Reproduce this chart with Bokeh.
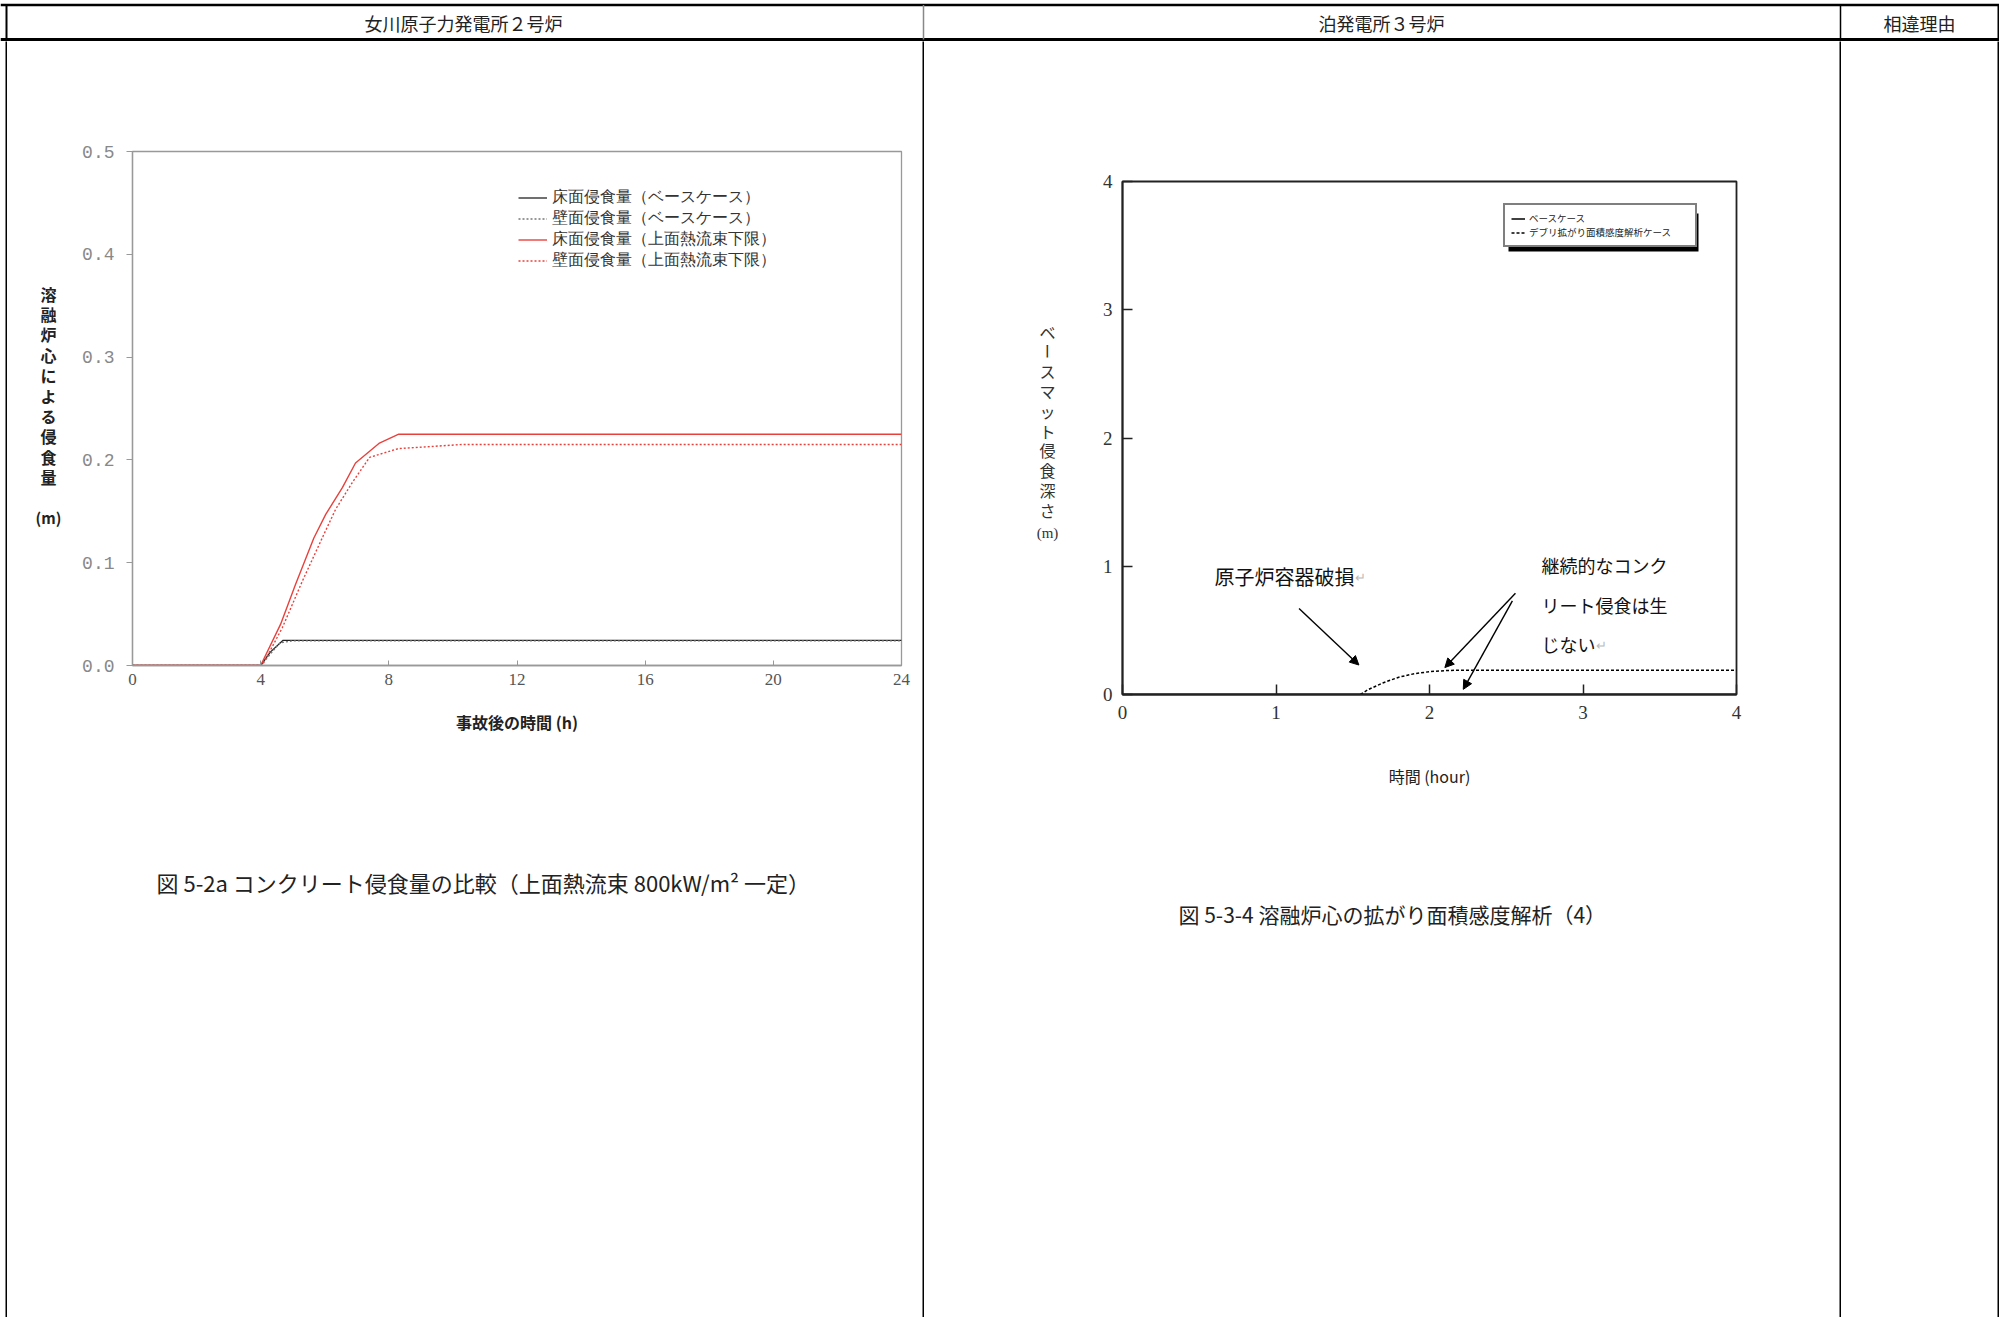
import math
from bokeh.plotting import figure
from bokeh.models import Range1d, FixedTicker, NumeralTickFormatter, Label, Arrow, NormalHead, BoxAnnotation
from bokeh.layouts import row, column
from bokeh.embed import file_html
from bokeh.resources import INLINE

JP = "Noto Sans CJK JP"

# ---------------- data: left chart (女川原子力発電所２号炉) ----------------
time_floor_base = [0.0, 4.0, 4.3, 4.7, 24.0]
floor_base = [0.0, 0.0, 0.013, 0.0245, 0.0245]
time_wall_base = [0.0, 4.0, 4.3, 4.6, 5.0, 24.0]
wall_base = [0.0, 0.0, 0.011, 0.022, 0.024, 0.024]
time_floor_low = [0.0, 4.0, 4.62, 5.09, 5.66, 6.03, 6.55, 6.96, 7.69, 8.31, 24.0]
floor_low = [0.0, 0.0, 0.040, 0.079, 0.124, 0.147, 0.173, 0.197, 0.216, 0.225, 0.225]
time_wall_low = [0.0, 4.05, 4.68, 5.3, 5.92, 6.34, 6.86, 7.4, 8.3, 10.3, 24.0]
wall_low = [0.0, 0.0, 0.037, 0.082, 0.124, 0.152, 0.178, 0.2025, 0.211, 0.215, 0.215]
left_x_ticks = [0, 4, 8, 12, 16, 20, 24]
left_y_ticks = [0.0, 0.1, 0.2, 0.3, 0.4, 0.5]
left_labels = ["床面侵食量（ベースケース）", "壁面侵食量（ベースケース）",
               "床面侵食量（上面熱流束下限）", "壁面侵食量（上面熱流束下限）"]

# ---------------- data: right chart (泊発電所３号炉) ----------------
time_base_r = [0.0, 4.0]
base_r = [0.0, 0.0]
time_sens_r = [1.55, 1.6, 1.7, 1.8, 1.9, 2.0, 2.1, 2.2, 4.0]
sens_r = [0.0, 0.038, 0.092, 0.135, 0.162, 0.178, 0.186, 0.19, 0.19]
right_ticks = [0, 1, 2, 3, 4]
right_labels = ["ベースケース", "デブリ拡がり面積感度解析ケース"]
note_texts = ["原子炉容器破損", "継続的なコンク", "リート侵食は生", "じない"]
note_x = [0.60, 2.73, 2.73, 2.73]
note_y = [0.92, 1.01, 0.70, 0.39]
note_size = ["20px", "18px", "18px", "18px"]
arrow_x0 = [1.15, 2.56, 2.54]
arrow_y0 = [0.67, 0.79, 0.73]
arrow_x1 = [1.54, 2.10, 2.22]
arrow_y1 = [0.23, 0.21, 0.04]


def no_align(f):
    if "frame_align" in type(f).properties():
        f.frame_align = False
    return f


def pane(x0, x1, y0, y1, color="white"):
    """A plain figure whose data space equals page pixels (y downwards)."""
    f = figure(width=x1 - x0, height=y1 - y0, output_backend="svg", toolbar_location=None,
               min_border=0, x_axis_location=None, y_axis_location=None,
               x_range=Range1d(x0, x1), y_range=Range1d(y1, y0))
    f.background_fill_color = color
    f.border_fill_color = color
    f.outline_line_color = None
    f.grid.visible = False
    return no_align(f)


def txt(f, x, y, s, size, align="center", color="#222", font=JP, style="normal", angle=0.0):
    f.add_layout(Label(x=x, y=y, text=s, text_align=align, text_baseline="middle",
                       text_font=font, text_font_size=size, text_color=color,
                       text_font_style=style, angle=angle))


# ---------------- header row ----------------
HEAD_Y1 = 41
BODY_Y1 = 1317
head = pane(0, 1999, 0, HEAD_Y1)
head.segment(x0=[0, 0], y0=[4.5, 39], x1=[1999, 1999], y1=[4.5, 39],
             line_color="black", line_width=[2.5, 3])
head.segment(x0=[6, 923, 1840, 1998], y0=[4.5] * 4, x1=[6, 923, 1840, 1998], y1=[39] * 4,
             line_color=["black", "#888", "black", "black"], line_width=[2, 1.5, 1.5, 2])
txt(head, 463, 22, "女川原子力発電所２号炉", "18px")
txt(head, 1381, 22, "泊発電所３号炉", "18px")
txt(head, 1919, 22, "相違理由", "18px")

# ---------------- left chart ----------------
L_TOP, L_BOT = HEAD_Y1, 745
pl = figure(width=852, height=L_BOT - L_TOP, x_range=Range1d(0, 24), y_range=Range1d(0, 0.5),
            min_border_left=62, min_border_right=21, min_border_top=110, min_border_bottom=80,
            output_backend="svg", toolbar_location=None, title=None)
no_align(pl)
pl.grid.visible = False
pl.outline_line_color = "#999"
pl.outline_line_width = 1.3
pl.line(time_floor_base, floor_base, line_color="#222", line_width=1.3, legend_label=left_labels[0])
pl.line(time_wall_base, wall_base, line_color="#777", line_width=1.3, line_dash="2 2", legend_label=left_labels[1])
pl.line(time_floor_low, floor_low, line_color="#e8413c", line_width=1.4, legend_label=left_labels[2])
pl.line(time_wall_low, wall_low, line_color="#e8413c", line_width=1.4, line_dash="2 2", legend_label=left_labels[3])

pl.xaxis.ticker = FixedTicker(ticks=left_x_ticks)
pl.yaxis.ticker = FixedTicker(ticks=left_y_ticks)
pl.yaxis.formatter = NumeralTickFormatter(format="0.0")
pl.axis.minor_tick_line_color = None
pl.axis.axis_line_color = "#999"
pl.axis.axis_line_width = 1.3
pl.axis.major_tick_line_color = "#999"
pl.xaxis.major_tick_in = 5
pl.xaxis.major_tick_out = 0
pl.yaxis.major_tick_in = 0
pl.yaxis.major_tick_out = 6
pl.xaxis.major_label_standoff = 8
pl.yaxis.major_label_standoff = 12
pl.xaxis.major_label_text_font = "Liberation Serif"
pl.xaxis.major_label_text_font_size = "17px"
pl.xaxis.major_label_text_color = "#555"
pl.yaxis.major_label_text_font = "Liberation Mono"
pl.yaxis.major_label_text_font_size = "18px"
pl.yaxis.major_label_text_color = "#888"
pl.xaxis.axis_label = "事故後の時間 (h)"
pl.xaxis.axis_label_text_font = JP
pl.xaxis.axis_label_text_font_style = "bold"
pl.xaxis.axis_label_text_font_size = "16px"
pl.xaxis.axis_label_text_color = "#222"
pl.xaxis.axis_label_standoff = 22

lg = pl.legend[0]
lg.location = (386, 394)
lg.border_line_color = None
lg.background_fill_alpha = 0
# a Latin font with compact metrics; the Japanese glyphs fall back to the CJK font
lg.label_text_font = "DejaVu Sans"
lg.label_text_font_size = "16px"
lg.label_text_color = "#333"
lg.glyph_width = 29
lg.glyph_height = 19
lg.label_height = 19
lg.spacing = 0
lg.padding = 0
lg.margin = 0
lg.label_standoff = 5

ylab_l = pane(7, 70, L_TOP, L_BOT)
for i, ch in enumerate("溶融炉心による侵食量"):
    txt(ylab_l, 48, 293 + i * 20.4, ch, "16px", style="bold")
txt(ylab_l, 48, 517, "(m)", "15px", style="bold")

cap_l = pane(7, 922, L_BOT, BODY_Y1)
txt(cap_l, 156, 881, "図 5-2a コンクリート侵食量の比較（上面熱流束 800kW/m² 一定）", "22px", align="left")

left_cell = column(row(ylab_l, pl), cap_l)

# ---------------- right chart ----------------
R_TOP, R_BOT = HEAD_Y1, 800
pr = figure(width=769, height=R_BOT - R_TOP, x_range=Range1d(0, 4), y_range=Range1d(0, 4),
            min_border_left=52, min_border_right=103, min_border_top=140, min_border_bottom=106,
            output_backend="svg", toolbar_location=None, title=None)
no_align(pr)
pr.grid.visible = False
pr.outline_line_color = "#222"
pr.outline_line_width = 1.8
pr.line(time_base_r, base_r, line_color="black", line_width=1.5, legend_label=right_labels[0])
pr.line(time_sens_r, sens_r, line_color="black", line_width=1.5, line_dash="3 2", legend_label=right_labels[1])

pr.axis.ticker = FixedTicker(ticks=right_ticks)
pr.axis.minor_tick_line_color = None
pr.axis.axis_line_color = "#222"
pr.axis.axis_line_width = 1.8
pr.axis.major_tick_line_color = "#222"
pr.axis.major_tick_line_width = 1.5
pr.axis.major_tick_in = 10
pr.axis.major_tick_out = 0
pr.xaxis.major_label_standoff = 11
pr.yaxis.major_label_standoff = 10
pr.axis.major_label_text_font = "Liberation Serif"
pr.axis.major_label_text_font_size = "19px"
pr.axis.major_label_text_color = "#333"
pr.xaxis.axis_label = "時間 (hour)"
pr.xaxis.axis_label_text_font = JP
pr.xaxis.axis_label_text_font_style = "normal"
pr.xaxis.axis_label_text_font_size = "16px"
pr.xaxis.axis_label_text_color = "#222"
pr.xaxis.axis_label_standoff = 42


def rdata(px, py):
    return (px - 1122) / 614 * 4, (694 - py) / 513 * 4


# legend drop shadow (offset box behind the legend)
sl, st = rdata(1508, 213)
sr, sb = rdata(1698, 251)
pr.add_layout(BoxAnnotation(left=sl, right=sr, top=st, bottom=sb, fill_color="black",
                            fill_alpha=1, line_color=None, level="underlay"))

lr = pr.legend[0]
lr.location = (381, 447)
lr.border_line_color = "black"
lr.border_line_width = 2
lr.background_fill_color = "white"
lr.background_fill_alpha = 1
lr.label_text_font = JP
lr.label_text_font_size = "9.5px"
lr.label_text_color = "#222"
lr.glyph_width = 14
lr.glyph_height = 13
lr.label_height = 13
lr.label_width = 160
lr.spacing = 0
lr.padding = 6
lr.margin = 0
lr.label_standoff = 4

for t, xx, yy, sz in zip(note_texts, note_x, note_y, note_size):
    pr.add_layout(Label(x=xx, y=yy, text=t, text_align="left", text_baseline="middle",
                        text_font=JP, text_font_size=sz, text_color="#111"))
for xx, yy, n, w in [(note_x[0], note_y[0], len(note_texts[0]), 20), (note_x[3], note_y[3], len(note_texts[3]), 18)]:
    pr.add_layout(Label(x=xx + n * w / 614 * 4, y=yy, text="↵", text_align="left", text_baseline="middle",
                        text_font=JP, text_font_size="13px", text_color="#bbb"))
for a, b, c, d in zip(arrow_x0, arrow_y0, arrow_x1, arrow_y1):
    pr.add_layout(Arrow(end=NormalHead(size=9, fill_color="black", line_color="black"),
                        x_start=a, y_start=b, x_end=c, y_end=d,
                        line_color="black", line_width=1.4))

ylab_r = pane(924, 1070, R_TOP, R_BOT)
for i, ch in enumerate("ベースマット侵食深さ"):
    txt(ylab_r, 1047, 331 + i * 19.8, ch, "16px", color="#333",
        angle=(-math.pi / 2 if ch == "ー" else 0.0))
txt(ylab_r, 1047, 532, "(m)", "15px", color="#333", font="Liberation Serif")

cap_r = pane(924, 1839, R_BOT, BODY_Y1)
txt(cap_r, 1178, 913, "図 5-3-4 溶融炉心の拡がり面積感度解析（4）", "21px", align="left")

right_cell = column(row(ylab_r, pr), cap_r)

# ---------------- assemble table ----------------
body = row(pane(0, 5, HEAD_Y1, BODY_Y1), pane(5, 7, HEAD_Y1, BODY_Y1, "black"), left_cell,
           pane(922, 924, HEAD_Y1, BODY_Y1, "black"), right_cell,
           pane(1839, 1841, HEAD_Y1, BODY_Y1, "black"), pane(1841, 1997, HEAD_Y1, BODY_Y1),
           pane(1997, 1999, HEAD_Y1, BODY_Y1, "black"))
page = column(head, body)

open("out.html", "w").write(file_html(page, INLINE))
